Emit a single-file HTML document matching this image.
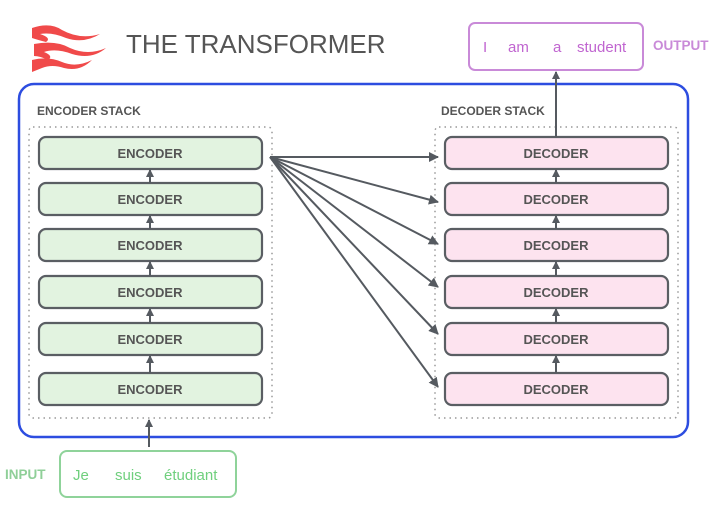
<!DOCTYPE html>
<html><head><meta charset="utf-8"><style>
body{margin:0;background:#fff;width:720px;height:504px;overflow:hidden}
svg text{font-family:"Liberation Sans",sans-serif}
</style></head><body>
<svg width="720" height="504" viewBox="0 0 720 504" xmlns="http://www.w3.org/2000/svg">
<defs>
<marker id="ah" markerWidth="8" markerHeight="8" refX="7" refY="4" orient="auto" markerUnits="userSpaceOnUse">
<path d="M0,0 L8,4 L0,8 z" fill="#555a60"/></marker>
<marker id="ah2" markerWidth="10" markerHeight="10" refX="9" refY="5" orient="auto" markerUnits="userSpaceOnUse">
<path d="M0,0 L10,5 L0,10 z" fill="#555a60"/></marker>
</defs>
<g fill="#f04a4a">
<path d="M32,28 Q50,22 62,30 Q80,40 100,34 Q84,44 66,38 Q52,32 40,34 Q52,38 46,42 Q38,40 32,38 z"/>
<path d="M34,44 Q56,40 70,48 Q88,56 106,48 Q92,60 72,54 Q56,48 44,52 Q54,56 48,60 Q40,56 34,56 z"/>
<path d="M32,60 Q48,56 62,62 Q76,68 92,60 Q80,72 64,68 Q52,64 42,68 L32,72 z"/>
</g>
<text x="126" y="53" font-size="26" fill="#555">THE TRANSFORMER</text>
<rect x="469" y="23" width="174" height="47" rx="6" fill="#fff" stroke="#c98ad8" stroke-width="2"/>
<text x="483" y="52" font-size="15" fill="#c065d0">I</text>
<text x="508" y="52" font-size="15" fill="#c065d0">am</text>
<text x="553" y="52" font-size="15" fill="#c065d0">a</text>
<text x="577" y="52" font-size="15" fill="#c065d0">student</text>
<text x="653" y="50" font-size="13.5" font-weight="bold" fill="#c98ad8">OUTPUT</text>
<rect x="19" y="84" width="669" height="353" rx="15" fill="none" stroke="#2d4de0" stroke-width="2.5"/>
<text x="37" y="115" font-size="12" font-weight="bold" fill="#555">ENCODER STACK</text>
<text x="441" y="115" font-size="12" font-weight="bold" fill="#555">DECODER STACK</text>
<rect x="29" y="127" width="243" height="291" rx="4" fill="none" stroke="#999" stroke-width="1.5" stroke-dasharray="1.5 4"/>
<rect x="435" y="127" width="243" height="291" rx="4" fill="none" stroke="#999" stroke-width="1.5" stroke-dasharray="1.5 4"/>
<g font-size="13" font-weight="bold" fill="#555" text-anchor="middle">
<g stroke="#5a5e63" stroke-width="2.2">
<rect x="39" y="137" width="223" height="32" rx="7" fill="#e2f3e0"/>
<rect x="39" y="183" width="223" height="32" rx="7" fill="#e2f3e0"/>
<rect x="39" y="229" width="223" height="32" rx="7" fill="#e2f3e0"/>
<rect x="39" y="276" width="223" height="32" rx="7" fill="#e2f3e0"/>
<rect x="39" y="323" width="223" height="32" rx="7" fill="#e2f3e0"/>
<rect x="39" y="373" width="223" height="32" rx="7" fill="#e2f3e0"/>
<rect x="445" y="137" width="223" height="32" rx="7" fill="#fde3ef"/>
<rect x="445" y="183" width="223" height="32" rx="7" fill="#fde3ef"/>
<rect x="445" y="229" width="223" height="32" rx="7" fill="#fde3ef"/>
<rect x="445" y="276" width="223" height="32" rx="7" fill="#fde3ef"/>
<rect x="445" y="323" width="223" height="32" rx="7" fill="#fde3ef"/>
<rect x="445" y="373" width="223" height="32" rx="7" fill="#fde3ef"/>
</g>
<text x="150" y="158">ENCODER</text><text x="150" y="204">ENCODER</text><text x="150" y="250">ENCODER</text>
<text x="150" y="297">ENCODER</text><text x="150" y="344">ENCODER</text><text x="150" y="394">ENCODER</text>
<text x="556" y="158">DECODER</text><text x="556" y="204">DECODER</text><text x="556" y="250">DECODER</text>
<text x="556" y="297">DECODER</text><text x="556" y="344">DECODER</text><text x="556" y="394">DECODER</text>
</g>
<g stroke="#555a60" stroke-width="2" marker-end="url(#ah)">
<line x1="150" y1="183" x2="150" y2="170"/><line x1="150" y1="229" x2="150" y2="216"/>
<line x1="150" y1="276" x2="150" y2="262"/><line x1="150" y1="323" x2="150" y2="309"/>
<line x1="150" y1="373" x2="150" y2="356"/>
<line x1="556" y1="183" x2="556" y2="170"/><line x1="556" y1="229" x2="556" y2="216"/>
<line x1="556" y1="276" x2="556" y2="262"/><line x1="556" y1="323" x2="556" y2="309"/>
<line x1="556" y1="373" x2="556" y2="356"/>
<line x1="556" y1="137" x2="556" y2="72"/>
<line x1="149" y1="447" x2="149" y2="420"/>
</g>
<g stroke="#555a60" stroke-width="2" marker-end="url(#ah2)">
<line x1="270" y1="157" x2="438" y2="157"/>
<line x1="270" y1="157" x2="438" y2="202"/>
<line x1="270" y1="157" x2="438" y2="244"/>
<line x1="270" y1="157" x2="438" y2="287"/>
<line x1="270" y1="157" x2="438" y2="334"/>
<line x1="270" y1="157" x2="438" y2="387"/>
</g>
<rect x="60" y="451" width="176" height="46" rx="7" fill="#fff" stroke="#8fd39a" stroke-width="2"/>
<text x="5" y="479" font-size="13.5" font-weight="bold" fill="#8fcf98">INPUT</text>
<text x="73" y="480" font-size="15" fill="#6fcf7d">Je</text>
<text x="115" y="480" font-size="15" fill="#6fcf7d">suis</text>
<text x="164" y="480" font-size="15" fill="#6fcf7d">étudiant</text>
</svg>
</body></html>
